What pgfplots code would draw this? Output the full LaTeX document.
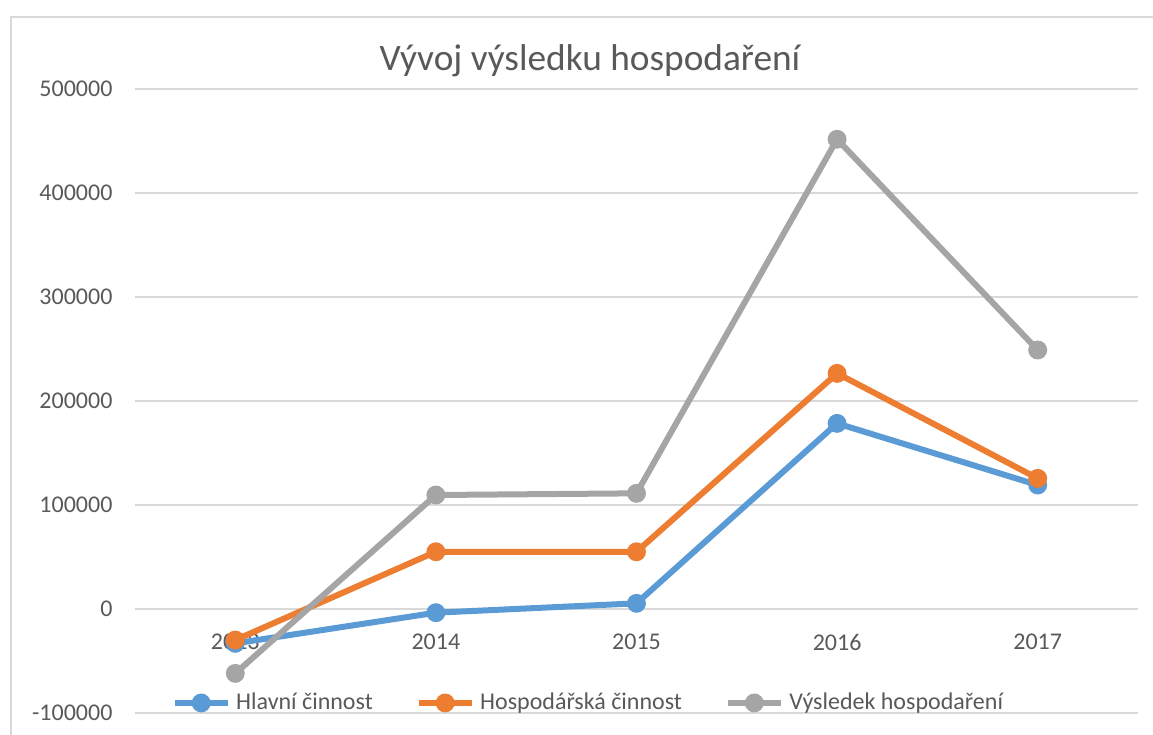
\documentclass[border=0pt]{standalone}
\usepackage{fontspec}
\setmainfont{Carlito}
\usepackage{pgfplots}
\pgfplotsset{compat=1.18}

\definecolor{xlblue}{HTML}{5B9BD5}
\definecolor{xlorange}{HTML}{ED7D31}
\definecolor{xlgray}{HTML}{A5A5A5}
\definecolor{gridgray}{HTML}{D9D9D9}
\definecolor{textgray}{HTML}{595959}

% 1 px of the reference = 0.375pt
\begin{document}
\begin{tikzpicture}
\useasboundingbox (-50.625pt,-8.36pt) rectangle (381.75pt,267.26pt);
\draw[gridgray, line width=0.75pt] (-46.5pt,-20pt) -- (-46.5pt,260.9pt) -- (390pt,260.9pt);
\begin{axis}[
  at={(0,0)}, anchor=south west,
  scale only axis,
  width=376.125pt, height=233.9pt,
  xmin=-0.5, xmax=4.5,
  ymin=-100000, ymax=500000,
  xtick={0,1,2,3,4},
  xticklabels={2013,2014,2015,2016,2017},
  ytick={-100000,0,100000,200000,300000,400000,500000},
  yticklabels={-100000,0,100000,200000,300000,400000,500000},
  scaled y ticks=false,
  major tick length=0pt,
  axis line style={draw=none},
  ymajorgrids,
  grid style={gridgray, line width=0.75pt},
  tick label style={font=\fontsize{9}{11}\selectfont, text=textgray},
  yticklabel style={anchor=east, inner sep=0pt, xshift=-8.25pt},
  xticklabel style={anchor=center, inner sep=0pt, yshift=26.5pt},
  title={Vývoj výsledku hospodaření},
  title style={font=\fontsize{14}{16}\selectfont, text=textgray, at={(0.4536,1)}, anchor=center, yshift=4.5pt},
  clip=false,
  legend columns=3,
  legend style={at={(0.4536,0.0156)}, anchor=center, draw=none, fill=none,
    font=\fontsize{9}{11}\selectfont, text=textgray,
    /tikz/every even column/.append style={column sep=14pt},
    inner sep=0pt},
  legend image code/.code={\draw[mark repeat=2,mark phase=2] plot coordinates {(0pt,0pt) (10pt,0pt) (20pt,0pt)};},
  every axis plot/.append style={line width=2.25pt, mark=*, mark size=2.4pt},
]
\addplot[xlblue, mark options={solid, fill=xlblue, draw=none}] coordinates {
  (0,-33300) (1,-3800) (2,5200) (3,178300) (4,119000)
};
\addlegendentry{Hlavní činnost}
\addplot[xlorange, mark options={solid, fill=xlorange, draw=none}] coordinates {
  (0,-30100) (1,54800) (2,54800) (3,226400) (4,125400)
};
\addlegendentry{Hospodářská činnost}
\addplot[xlgray, mark options={solid, fill=xlgray, draw=none}] coordinates {
  (0,-62200) (1,109400) (2,111000) (3,451600) (4,248900)
};
\addlegendentry{Výsledek hospodaření}
\end{axis}
\end{tikzpicture}
\end{document}
